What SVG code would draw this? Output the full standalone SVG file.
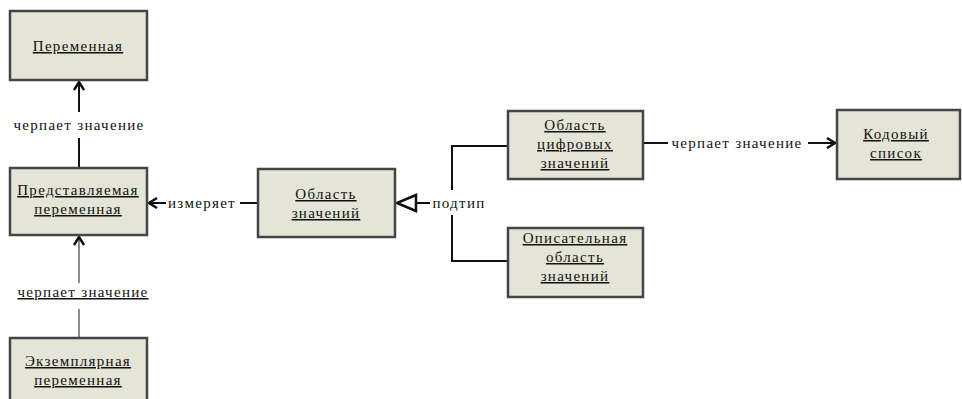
<svg xmlns="http://www.w3.org/2000/svg" width="962" height="399" viewBox="0 0 962 399">
<style>
.box{fill:#e5e5d7;stroke:#454545;stroke-width:2.5}
.t{font-family:"Liberation Serif","DejaVu Serif",serif;font-size:15px;letter-spacing:1.3px;fill:#111;text-anchor:middle}
.u{text-decoration:underline}
.c{fill:none;stroke:#111;stroke-width:2}
.g{fill:none;stroke:#8a8a8a;stroke-width:2}
.lb{font-family:"Liberation Serif","DejaVu Serif",serif;font-size:15px;letter-spacing:1.3px;fill:#111}
</style>
<defs>
<marker id="arr" markerWidth="12" markerHeight="12" refX="10" refY="6" orient="auto" markerUnits="userSpaceOnUse">
<polyline points="2,1 10,6 2,11" fill="none" stroke="#111" stroke-width="2.5"/>
</marker>
<marker id="tri" markerWidth="22" markerHeight="20" refX="21" refY="10" orient="auto" markerUnits="userSpaceOnUse">
<polygon points="2,2 21,10 2,18" fill="#fff" stroke="#111" stroke-width="2.5"/>
</marker>
</defs>
<rect width="962" height="399" fill="#fff"/>
<g id="connectors">
<line class="c" x1="79" y1="168" x2="79" y2="138"/>
<line class="c" x1="79" y1="112" x2="79" y2="82" marker-end="url(#arr)"/>
<text class="lb" x="79" y="130" text-anchor="middle">черпает значение</text>
<line class="g" x1="79" y1="338" x2="79" y2="309"/>
<line class="g" x1="79" y1="283" x2="79" y2="237" marker-end="url(#arr)"/>
<text class="lb u" x="83" y="297" text-anchor="middle">черпает значение</text>
<line class="c" x1="258" y1="203" x2="240" y2="203"/>
<line class="c" x1="166" y1="203" x2="149" y2="203" marker-end="url(#arr)"/>
<text class="lb" x="202" y="208" text-anchor="middle">измеряет</text>
<line class="c" x1="430" y1="203" x2="397" y2="203" marker-end="url(#tri)"/>
<polyline class="c" points="508,146 452,146 452,190"/>
<polyline class="c" points="452,215 452,261 508,261"/>
<text class="lb" x="459" y="208" text-anchor="middle">подтип</text>
<line class="c" x1="643" y1="143" x2="668" y2="143"/>
<line class="c" x1="808" y1="143" x2="835" y2="143" marker-end="url(#arr)"/>
<text class="lb" x="737" y="148" text-anchor="middle">черпает значение</text>
</g>
<g id="n1"><rect class="box" x="10" y="11" width="137" height="69"/><text class="t u" x="78" y="51">Переменная</text></g>
<g id="n2"><rect class="box" x="10" y="168" width="137" height="67"/><text class="t u" x="78" y="195">Представляемая</text><text class="t u" x="78" y="214">переменная</text></g>
<g id="n3"><rect class="box" x="10" y="338" width="137" height="70"/><text class="t u" x="78" y="366">Экземплярная</text><text class="t u" x="78" y="385">переменная</text></g>
<g id="n4"><rect class="box" x="258" y="169" width="137" height="68"/><text class="t u" x="326" y="199">Область</text><text class="t u" x="326" y="218">значений</text></g>
<g id="n5"><rect class="box" x="508" y="111" width="135" height="68"/><text class="t u" x="575" y="130">Область</text><text class="t u" x="575" y="149">цифровых</text><text class="t u" x="575" y="168">значений</text></g>
<g id="n6"><rect class="box" x="508" y="228" width="135" height="69"/><text class="t u" x="575" y="243">Описательная</text><text class="t u" x="575" y="262">область</text><text class="t u" x="575" y="281">значений</text></g>
<g id="n7"><rect class="box" x="837" y="110" width="123" height="69"/><text class="t u" x="896" y="139">Кодовый</text><text class="t u" x="896" y="158">список</text></g>
</svg>
